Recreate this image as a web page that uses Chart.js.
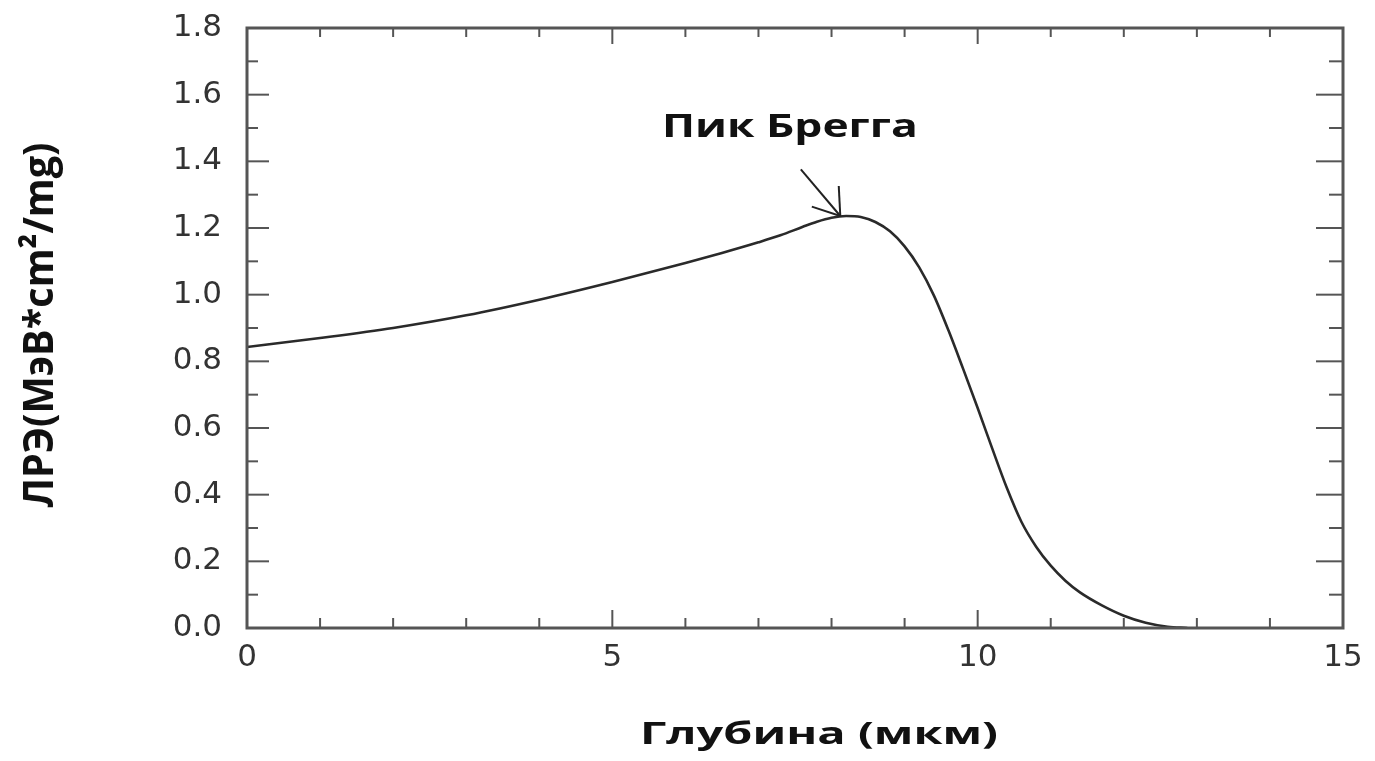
<!DOCTYPE html>
<html><head><meta charset="utf-8">
<script src="https://cdn.jsdelivr.net/npm/chart.js@4/dist/chart.umd.min.js"></script>
<style>html,body{margin:0;padding:0;background:#fff;overflow:hidden}#wrap{width:1375px;height:761px}</style>
</head><body><div id="wrap"><canvas id="c" width="1375" height="761"></canvas></div>
<script>
// ---- data ----
const depth = [0, 1, 2, 3, 4, 5, 6, 6.5, 7, 7.3, 7.6, 7.8, 8.0, 8.2, 8.4, 8.6, 8.8, 9.0, 9.2, 9.4, 9.6, 9.8, 10.0, 10.2, 10.4, 10.6, 10.8, 11.0, 11.2, 11.4, 11.7, 12.0, 12.3, 12.6, 12.87];
const letValues = [0.843, 0.870, 0.900, 0.938, 0.985, 1.038, 1.095, 1.125, 1.157, 1.178, 1.203, 1.219, 1.231, 1.236, 1.233, 1.218, 1.190, 1.145, 1.082, 0.998, 0.893, 0.778, 0.660, 0.538, 0.420, 0.318, 0.244, 0.187, 0.142, 0.107, 0.068, 0.037, 0.016, 0.004, 0];
const xMajorTicks = [0, 5, 10, 15];
const xMinorTicks = [1, 2, 3, 4, 6, 7, 8, 9, 11, 12, 13, 14];
const yMajorTicks = [0, 0.2, 0.4, 0.6, 0.8, 1.0, 1.2, 1.4, 1.6, 1.8];
const yMinorTicks = [0.1, 0.3, 0.5, 0.7, 0.9, 1.1, 1.3, 1.5, 1.7];
const xTitle = 'Глубина (мкм)';
const yTitle = 'ЛРЭ(МэВ*cm²/mg)';
const peakLabel = 'Пик Брегга';
const peakTip = [8.12, 1.236];
const arrowTail = [7.58, 1.376];
const labelAt = [7.43, 1.474];

const points = depth.map((d, i) => ({x: d, y: letValues[i]}));

function stretchedText(ctx, text, font, x, y, targetW, sy, rotate) {
  ctx.save();
  ctx.font = font;
  const w = ctx.measureText(text).width;
  ctx.translate(x, y);
  if (rotate) ctx.rotate(-Math.PI / 2);
  ctx.scale(targetW / w, sy);
  ctx.textAlign = 'center';
  ctx.textBaseline = 'alphabetic';
  ctx.fillText(text, 0, 0);
  ctx.restore();
}

const framePlugin = {
  id: 'frameTicks',
  afterDatasetsDraw(chart) {
    const {ctx, chartArea: a, scales: {x, y}} = chart;
    ctx.save();
    ctx.strokeStyle = '#555';
    ctx.lineCap = 'butt';
    ctx.lineWidth = 2;
    const hTick = (v, len, side) => {
      const py = y.getPixelForValue(v);
      ctx.beginPath();
      if (side === 'left') { ctx.moveTo(a.left, py); ctx.lineTo(a.left + len, py); }
      else { ctx.moveTo(a.right, py); ctx.lineTo(a.right - len, py); }
      ctx.stroke();
    };
    const vTick = (v, len, side) => {
      const px = x.getPixelForValue(v);
      ctx.beginPath();
      if (side === 'bottom') { ctx.moveTo(px, a.bottom); ctx.lineTo(px, a.bottom - len); }
      else { ctx.moveTo(px, a.top); ctx.lineTo(px, a.top + len); }
      ctx.stroke();
    };
    yMajorTicks.forEach(v => { hTick(v, 22, 'left'); hTick(v, 27, 'right'); });
    yMinorTicks.forEach(v => { hTick(v, 11, 'left'); hTick(v, 14, 'right'); });
    xMajorTicks.forEach(v => { vTick(v, 18, 'bottom'); vTick(v, 16, 'top'); });
    xMinorTicks.forEach(v => { vTick(v, 10, 'bottom'); vTick(v, 9, 'top'); });
    ctx.lineWidth = 3;
    ctx.strokeRect(a.left, a.top, a.right - a.left, a.bottom - a.top);

    // annotation arrow
    const tx = x.getPixelForValue(peakTip[0]), ty = y.getPixelForValue(peakTip[1]);
    const sx = x.getPixelForValue(arrowTail[0]), sy = y.getPixelForValue(arrowTail[1]);
    ctx.strokeStyle = '#222';
    ctx.lineWidth = 2;
    ctx.beginPath(); ctx.moveTo(sx, sy); ctx.lineTo(tx, ty); ctx.stroke();
    const ang = Math.atan2(sy - ty, sx - tx);
    [-0.55, 0.65].forEach(d => {
      ctx.beginPath();
      ctx.moveTo(tx, ty);
      ctx.lineTo(tx + 30 * Math.cos(ang + d), ty + 30 * Math.sin(ang + d));
      ctx.stroke();
    });
    ctx.restore();

    ctx.save();
    ctx.fillStyle = '#111';
    stretchedText(ctx, peakLabel, 'bold 32px "Open Sans"',
      x.getPixelForValue(labelAt[0]), y.getPixelForValue(labelAt[1]), 256, 1, false);
    stretchedText(ctx, xTitle, 'bold 31px "Open Sans"', (a.left + a.right) / 2 + 24, 744, 358, 1, false);
    stretchedText(ctx, yTitle, 'bold 35px "Open Sans"', 53, (a.top + a.bottom) / 2 - 3, 365, 1.2, true);
    ctx.restore();
  }
};

new Chart(document.getElementById('c'), {
  type: 'line',
  data: {
    datasets: [{
      data: points,
      borderColor: '#2a2a2a',
      borderWidth: 2.6,
      pointRadius: 0,
      fill: false,
      cubicInterpolationMode: 'monotone'
    }]
  },
  options: {
    responsive: false,
    animation: false,
    devicePixelRatio: 1,
    layout: {padding: {left: 0, right: 32, top: 28, bottom: 0}},
    plugins: {legend: {display: false}, tooltip: {enabled: false}},
    scales: {
      x: {
        type: 'linear', min: 0, max: 15,
        grid: {display: false, drawTicks: false},
        border: {display: false},
        ticks: {stepSize: 5, padding: 11, color: '#333', font: {family: 'DejaVu Sans', size: 31}, maxRotation: 0},
        afterFit(s) { s.height = 133; }
      },
      y: {
        type: 'linear', min: 0, max: 1.8,
        grid: {display: false, drawTicks: false},
        border: {display: false},
        ticks: {stepSize: 0.2, padding: 25, color: '#333', font: {family: 'DejaVu Sans', size: 31}, callback: v => Number(v).toFixed(1)},
        afterFit(s) { s.width = 247; s.paddingTop = 0; s.paddingBottom = 0; }
      }
    }
  },
  plugins: [framePlugin]
});
</script></body></html>
